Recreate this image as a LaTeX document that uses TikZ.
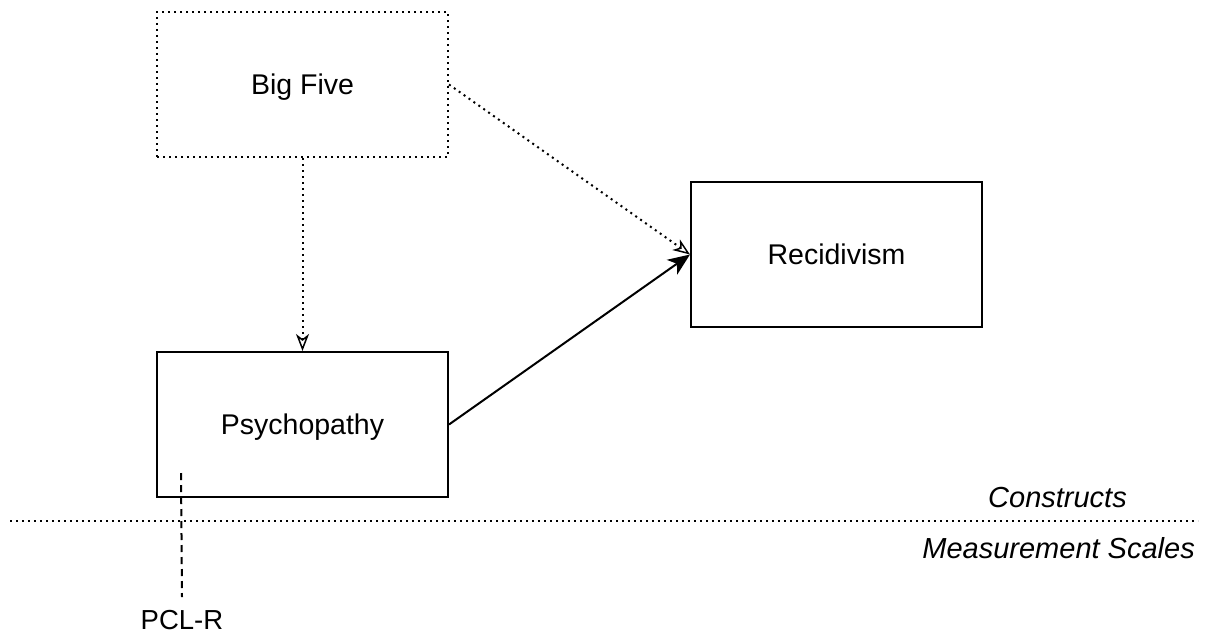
\documentclass[tikz,border=0pt]{standalone}
\usepackage{fontspec}
\setmainfont{Liberation Sans}
\usetikzlibrary{arrows.meta}
\begin{document}
\begin{tikzpicture}[x=1pt,y=-1pt,
  box/.style={draw, line width=2pt, minimum width=291pt, minimum height=145pt, font=\fontsize{28.5}{32}\selectfont, inner sep=0pt, text depth=0pt},
  dotbox/.style={box, line width=2pt, dash pattern=on 2pt off 4pt},
  dotline/.style={line width=2pt, dash pattern=on 2pt off 4pt},
  openhead/.style={-{Stealth[open, length=17pt, width=13pt, inset=5pt, line width=1.5pt]}},
  solidhead/.style={-{Stealth[length=22pt, width=18pt, inset=6pt]}},
  lbl/.style={font=\fontsize{29}{32}\selectfont\itshape, inner sep=0pt}
]
  \useasboundingbox (0,0) rectangle (1206,637);

  % construct boxes
  \node[dotbox] (big) at (302.5,84.5) {Big Five};
  \node[box] (rec) at (836.5,254.5) {Recidivism};
  \node[box] (psy) at (302.5,424.5) {Psychopathy};

  % paths between constructs
  \draw[dotline, openhead] (big.south) -- (psy.north);
  \draw[dotline, openhead] (big.east) -- (rec.west);
  \draw[line width=2pt, solidhead] (psy.east) -- (rec.west);

  % separator between the two layers
  \coordinate (sepL) at (10,521);
  \coordinate (sepR) at (1198,521);
  \draw[dotline] (sepL) -- (sepR);
  \node[lbl, anchor=east] (cons) at (1127,498) {Constructs};
  \node[lbl, anchor=east] (meas) at (1195,548) {Measurement Scales};

  % measurement scale link
  \node[font=\fontsize{27.5}{32}\selectfont, inner sep=0pt] (pcl) at (182,620) {PCL-R};
  \coordinate (pcltop) at (181,473);
  \draw[line width=2pt, dash pattern=on 7pt off 5pt] (pcltop) -- (pcl.north |- 0,597);
\end{tikzpicture}
\end{document}
